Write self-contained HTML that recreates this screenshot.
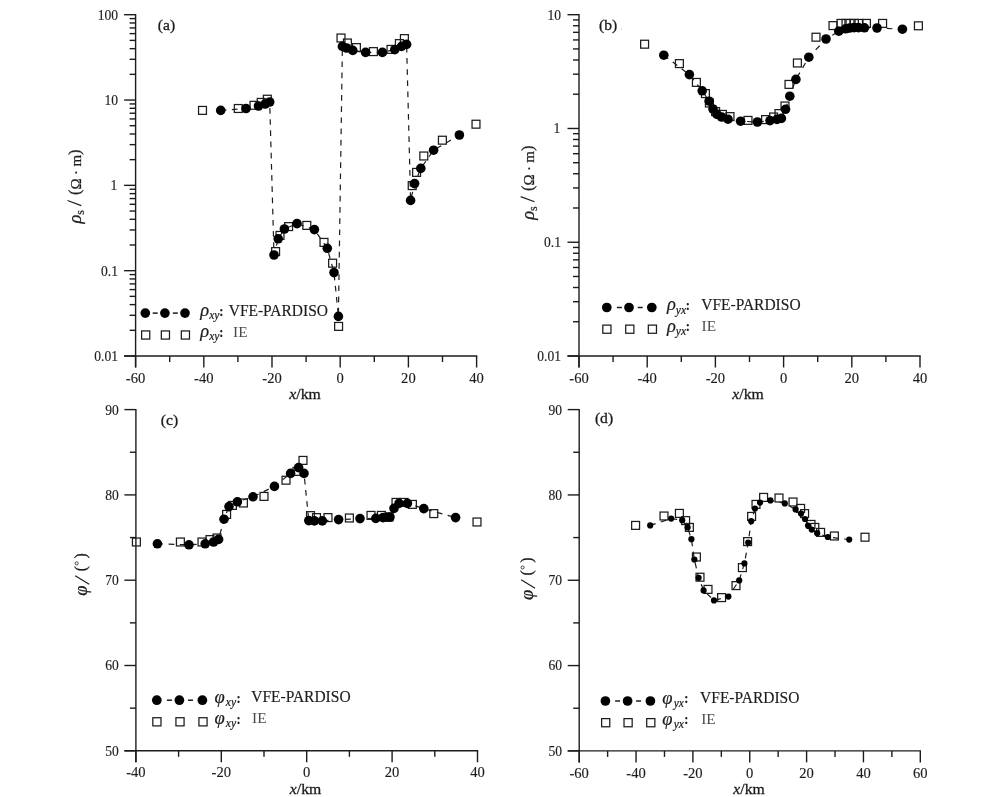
<!DOCTYPE html>
<html><head><meta charset="utf-8"><title>Figure</title>
<style>
html,body{margin:0;padding:0;background:#fff;}
body{width:1000px;height:797px;overflow:hidden;font-family:"Liberation Serif",serif;}
svg{display:block;will-change:transform;}
</style></head><body>
<svg width="1000" height="797" viewBox="0 0 1000 797">
<rect width="1000" height="797" fill="#fff"/>
<line x1="135.60" y1="14.00" x2="135.60" y2="367.50" stroke="#1c1c1c" stroke-width="1.4" />
<line x1="124.10" y1="356.00" x2="477.30" y2="356.00" stroke="#1c1c1c" stroke-width="1.4" />
<line x1="135.60" y1="356.00" x2="135.60" y2="367.50" stroke="#1c1c1c" stroke-width="1.4" />
<text transform="translate(135.60,382.60) scale(1.0,1)" font-size="14.6" text-anchor="middle" font-family="Liberation Serif, serif" fill="#1c1c1c" stroke="#1c1c1c" stroke-width="0.15" >-60</text>
<line x1="203.80" y1="356.00" x2="203.80" y2="367.50" stroke="#1c1c1c" stroke-width="1.4" />
<text transform="translate(203.80,382.60) scale(1.0,1)" font-size="14.6" text-anchor="middle" font-family="Liberation Serif, serif" fill="#1c1c1c" stroke="#1c1c1c" stroke-width="0.15" >-40</text>
<line x1="272.00" y1="356.00" x2="272.00" y2="367.50" stroke="#1c1c1c" stroke-width="1.4" />
<text transform="translate(272.00,382.60) scale(1.0,1)" font-size="14.6" text-anchor="middle" font-family="Liberation Serif, serif" fill="#1c1c1c" stroke="#1c1c1c" stroke-width="0.15" >-20</text>
<line x1="340.20" y1="356.00" x2="340.20" y2="367.50" stroke="#1c1c1c" stroke-width="1.4" />
<text transform="translate(340.20,382.60) scale(1.0,1)" font-size="14.6" text-anchor="middle" font-family="Liberation Serif, serif" fill="#1c1c1c" stroke="#1c1c1c" stroke-width="0.15" >0</text>
<line x1="408.40" y1="356.00" x2="408.40" y2="367.50" stroke="#1c1c1c" stroke-width="1.4" />
<text transform="translate(408.40,382.60) scale(1.0,1)" font-size="14.6" text-anchor="middle" font-family="Liberation Serif, serif" fill="#1c1c1c" stroke="#1c1c1c" stroke-width="0.15" >20</text>
<line x1="476.60" y1="356.00" x2="476.60" y2="367.50" stroke="#1c1c1c" stroke-width="1.4" />
<text transform="translate(476.60,382.60) scale(1.0,1)" font-size="14.6" text-anchor="middle" font-family="Liberation Serif, serif" fill="#1c1c1c" stroke="#1c1c1c" stroke-width="0.15" >40</text>
<line x1="169.70" y1="356.00" x2="169.70" y2="362.00" stroke="#1c1c1c" stroke-width="1.4" />
<line x1="237.90" y1="356.00" x2="237.90" y2="362.00" stroke="#1c1c1c" stroke-width="1.4" />
<line x1="306.10" y1="356.00" x2="306.10" y2="362.00" stroke="#1c1c1c" stroke-width="1.4" />
<line x1="374.30" y1="356.00" x2="374.30" y2="362.00" stroke="#1c1c1c" stroke-width="1.4" />
<line x1="442.50" y1="356.00" x2="442.50" y2="362.00" stroke="#1c1c1c" stroke-width="1.4" />
<line x1="124.10" y1="14.70" x2="135.60" y2="14.70" stroke="#1c1c1c" stroke-width="1.4" />
<text transform="translate(118.00,19.60) scale(0.93,1)" font-size="14.6" text-anchor="end" font-family="Liberation Serif, serif" fill="#1c1c1c" stroke="#1c1c1c" stroke-width="0.15" >100</text>
<line x1="124.10" y1="100.03" x2="135.60" y2="100.03" stroke="#1c1c1c" stroke-width="1.4" />
<text transform="translate(118.00,104.93) scale(0.93,1)" font-size="14.6" text-anchor="end" font-family="Liberation Serif, serif" fill="#1c1c1c" stroke="#1c1c1c" stroke-width="0.15" >10</text>
<line x1="124.10" y1="185.35" x2="135.60" y2="185.35" stroke="#1c1c1c" stroke-width="1.4" />
<text transform="translate(117.20,190.25) scale(0.93,1)" font-size="14.6" text-anchor="end" font-family="Liberation Serif, serif" fill="#1c1c1c" stroke="#1c1c1c" stroke-width="0.15" >1</text>
<line x1="124.10" y1="270.68" x2="135.60" y2="270.68" stroke="#1c1c1c" stroke-width="1.4" />
<text transform="translate(118.00,275.57) scale(0.93,1)" font-size="14.6" text-anchor="end" font-family="Liberation Serif, serif" fill="#1c1c1c" stroke="#1c1c1c" stroke-width="0.15" >0.1</text>
<line x1="124.10" y1="356.00" x2="135.60" y2="356.00" stroke="#1c1c1c" stroke-width="1.4" />
<text transform="translate(118.00,360.90) scale(0.93,1)" font-size="14.6" text-anchor="end" font-family="Liberation Serif, serif" fill="#1c1c1c" stroke="#1c1c1c" stroke-width="0.15" >0.01</text>
<line x1="129.60" y1="74.34" x2="135.60" y2="74.34" stroke="#1c1c1c" stroke-width="1.4" />
<line x1="129.60" y1="59.31" x2="135.60" y2="59.31" stroke="#1c1c1c" stroke-width="1.4" />
<line x1="129.60" y1="48.65" x2="135.60" y2="48.65" stroke="#1c1c1c" stroke-width="1.4" />
<line x1="129.60" y1="40.39" x2="135.60" y2="40.39" stroke="#1c1c1c" stroke-width="1.4" />
<line x1="129.60" y1="33.63" x2="135.60" y2="33.63" stroke="#1c1c1c" stroke-width="1.4" />
<line x1="129.60" y1="27.92" x2="135.60" y2="27.92" stroke="#1c1c1c" stroke-width="1.4" />
<line x1="129.60" y1="22.97" x2="135.60" y2="22.97" stroke="#1c1c1c" stroke-width="1.4" />
<line x1="129.60" y1="18.60" x2="135.60" y2="18.60" stroke="#1c1c1c" stroke-width="1.4" />
<line x1="129.60" y1="159.66" x2="135.60" y2="159.66" stroke="#1c1c1c" stroke-width="1.4" />
<line x1="129.60" y1="144.64" x2="135.60" y2="144.64" stroke="#1c1c1c" stroke-width="1.4" />
<line x1="129.60" y1="133.98" x2="135.60" y2="133.98" stroke="#1c1c1c" stroke-width="1.4" />
<line x1="129.60" y1="125.71" x2="135.60" y2="125.71" stroke="#1c1c1c" stroke-width="1.4" />
<line x1="129.60" y1="118.95" x2="135.60" y2="118.95" stroke="#1c1c1c" stroke-width="1.4" />
<line x1="129.60" y1="113.24" x2="135.60" y2="113.24" stroke="#1c1c1c" stroke-width="1.4" />
<line x1="129.60" y1="108.29" x2="135.60" y2="108.29" stroke="#1c1c1c" stroke-width="1.4" />
<line x1="129.60" y1="103.93" x2="135.60" y2="103.93" stroke="#1c1c1c" stroke-width="1.4" />
<line x1="129.60" y1="244.99" x2="135.60" y2="244.99" stroke="#1c1c1c" stroke-width="1.4" />
<line x1="129.60" y1="229.96" x2="135.60" y2="229.96" stroke="#1c1c1c" stroke-width="1.4" />
<line x1="129.60" y1="219.30" x2="135.60" y2="219.30" stroke="#1c1c1c" stroke-width="1.4" />
<line x1="129.60" y1="211.04" x2="135.60" y2="211.04" stroke="#1c1c1c" stroke-width="1.4" />
<line x1="129.60" y1="204.28" x2="135.60" y2="204.28" stroke="#1c1c1c" stroke-width="1.4" />
<line x1="129.60" y1="198.57" x2="135.60" y2="198.57" stroke="#1c1c1c" stroke-width="1.4" />
<line x1="129.60" y1="193.62" x2="135.60" y2="193.62" stroke="#1c1c1c" stroke-width="1.4" />
<line x1="129.60" y1="189.25" x2="135.60" y2="189.25" stroke="#1c1c1c" stroke-width="1.4" />
<line x1="129.60" y1="330.31" x2="135.60" y2="330.31" stroke="#1c1c1c" stroke-width="1.4" />
<line x1="129.60" y1="315.29" x2="135.60" y2="315.29" stroke="#1c1c1c" stroke-width="1.4" />
<line x1="129.60" y1="304.63" x2="135.60" y2="304.63" stroke="#1c1c1c" stroke-width="1.4" />
<line x1="129.60" y1="296.36" x2="135.60" y2="296.36" stroke="#1c1c1c" stroke-width="1.4" />
<line x1="129.60" y1="289.60" x2="135.60" y2="289.60" stroke="#1c1c1c" stroke-width="1.4" />
<line x1="129.60" y1="283.89" x2="135.60" y2="283.89" stroke="#1c1c1c" stroke-width="1.4" />
<line x1="129.60" y1="278.94" x2="135.60" y2="278.94" stroke="#1c1c1c" stroke-width="1.4" />
<line x1="129.60" y1="274.58" x2="135.60" y2="274.58" stroke="#1c1c1c" stroke-width="1.4" />
<text transform="translate(166.50,30.00) scale(1.04,1)" font-size="15" text-anchor="middle" font-family="Liberation Serif, serif" fill="#1c1c1c" stroke="#1c1c1c" stroke-width="0.3" >(a)</text>
<text transform="translate(305.00,399.30) scale(1.05,1)" font-size="15" text-anchor="middle" font-family="Liberation Serif, serif" fill="#1c1c1c" stroke="#1c1c1c" stroke-width="0.3" ><tspan font-style="italic">x</tspan>/km</text>
<path d="M220.70,110.40 L246.00,108.50 L258.50,106.00 L265.20,104.00 L269.70,102.00 L274.00,255.00 L278.20,238.80 L284.40,229.00 L297.00,223.60 L314.40,229.60 L327.30,248.30 L334.00,272.60 L338.40,316.40 L342.40,46.40 L346.60,48.00 L352.80,50.40 L365.60,52.40 L382.40,52.40 L394.80,49.60 L401.60,46.40 L406.60,44.40 L410.60,200.40 L414.60,183.60 L420.80,168.40 L433.60,150.20 L459.40,135.00" fill="none" stroke="#1c1c1c" stroke-width="1.2" stroke-dasharray="5.7 5.5"/>
<rect x="198.55" y="106.45" width="7.9" height="7.9" fill="none" stroke="#1c1c1c" stroke-width="1.25"/>
<rect x="234.35" y="104.55" width="7.9" height="7.9" fill="none" stroke="#1c1c1c" stroke-width="1.25"/>
<rect x="250.05" y="101.35" width="7.9" height="7.9" fill="none" stroke="#1c1c1c" stroke-width="1.25"/>
<rect x="257.25" y="98.45" width="7.9" height="7.9" fill="none" stroke="#1c1c1c" stroke-width="1.25"/>
<rect x="263.35" y="95.25" width="7.9" height="7.9" fill="none" stroke="#1c1c1c" stroke-width="1.25"/>
<rect x="271.65" y="247.65" width="7.9" height="7.9" fill="none" stroke="#1c1c1c" stroke-width="1.25"/>
<rect x="276.05" y="231.45" width="7.9" height="7.9" fill="none" stroke="#1c1c1c" stroke-width="1.25"/>
<rect x="284.65" y="222.65" width="7.9" height="7.9" fill="none" stroke="#1c1c1c" stroke-width="1.25"/>
<rect x="302.85" y="221.45" width="7.9" height="7.9" fill="none" stroke="#1c1c1c" stroke-width="1.25"/>
<rect x="320.05" y="238.45" width="7.9" height="7.9" fill="none" stroke="#1c1c1c" stroke-width="1.25"/>
<rect x="328.65" y="259.25" width="7.9" height="7.9" fill="none" stroke="#1c1c1c" stroke-width="1.25"/>
<rect x="334.65" y="322.45" width="7.9" height="7.9" fill="none" stroke="#1c1c1c" stroke-width="1.25"/>
<rect x="337.05" y="34.05" width="7.9" height="7.9" fill="none" stroke="#1c1c1c" stroke-width="1.25"/>
<rect x="343.45" y="39.05" width="7.9" height="7.9" fill="none" stroke="#1c1c1c" stroke-width="1.25"/>
<rect x="352.45" y="43.65" width="7.9" height="7.9" fill="none" stroke="#1c1c1c" stroke-width="1.25"/>
<rect x="369.45" y="47.65" width="7.9" height="7.9" fill="none" stroke="#1c1c1c" stroke-width="1.25"/>
<rect x="387.05" y="45.45" width="7.9" height="7.9" fill="none" stroke="#1c1c1c" stroke-width="1.25"/>
<rect x="395.45" y="39.65" width="7.9" height="7.9" fill="none" stroke="#1c1c1c" stroke-width="1.25"/>
<rect x="400.45" y="34.65" width="7.9" height="7.9" fill="none" stroke="#1c1c1c" stroke-width="1.25"/>
<rect x="408.25" y="181.65" width="7.9" height="7.9" fill="none" stroke="#1c1c1c" stroke-width="1.25"/>
<rect x="412.65" y="168.45" width="7.9" height="7.9" fill="none" stroke="#1c1c1c" stroke-width="1.25"/>
<rect x="419.85" y="152.05" width="7.9" height="7.9" fill="none" stroke="#1c1c1c" stroke-width="1.25"/>
<rect x="438.45" y="136.25" width="7.9" height="7.9" fill="none" stroke="#1c1c1c" stroke-width="1.25"/>
<rect x="472.05" y="120.25" width="7.9" height="7.9" fill="none" stroke="#1c1c1c" stroke-width="1.25"/>
<circle cx="220.70" cy="110.40" r="4.8" fill="#000"/>
<circle cx="246.00" cy="108.50" r="4.8" fill="#000"/>
<circle cx="258.50" cy="106.00" r="4.8" fill="#000"/>
<circle cx="265.20" cy="104.00" r="4.8" fill="#000"/>
<circle cx="269.70" cy="102.00" r="4.8" fill="#000"/>
<circle cx="274.00" cy="255.00" r="4.8" fill="#000"/>
<circle cx="278.20" cy="238.80" r="4.8" fill="#000"/>
<circle cx="284.40" cy="229.00" r="4.8" fill="#000"/>
<circle cx="297.00" cy="223.60" r="4.8" fill="#000"/>
<circle cx="314.40" cy="229.60" r="4.8" fill="#000"/>
<circle cx="327.30" cy="248.30" r="4.8" fill="#000"/>
<circle cx="334.00" cy="272.60" r="4.8" fill="#000"/>
<circle cx="338.40" cy="316.40" r="4.8" fill="#000"/>
<circle cx="342.40" cy="46.40" r="4.8" fill="#000"/>
<circle cx="346.60" cy="48.00" r="4.8" fill="#000"/>
<circle cx="352.80" cy="50.40" r="4.8" fill="#000"/>
<circle cx="365.60" cy="52.40" r="4.8" fill="#000"/>
<circle cx="382.40" cy="52.40" r="4.8" fill="#000"/>
<circle cx="394.80" cy="49.60" r="4.8" fill="#000"/>
<circle cx="401.60" cy="46.40" r="4.8" fill="#000"/>
<circle cx="406.60" cy="44.40" r="4.8" fill="#000"/>
<circle cx="410.60" cy="200.40" r="4.8" fill="#000"/>
<circle cx="414.60" cy="183.60" r="4.8" fill="#000"/>
<circle cx="420.80" cy="168.40" r="4.8" fill="#000"/>
<circle cx="433.60" cy="150.20" r="4.8" fill="#000"/>
<circle cx="459.40" cy="135.00" r="4.8" fill="#000"/>
<line x1="152.70" y1="313.10" x2="157.70" y2="313.10" stroke="#1c1c1c" stroke-width="1.5" />
<line x1="172.80" y1="313.10" x2="177.80" y2="313.10" stroke="#1c1c1c" stroke-width="1.5" />
<circle cx="145.30" cy="313.10" r="4.85" fill="#000"/>
<circle cx="164.90" cy="313.10" r="4.85" fill="#000"/>
<circle cx="185.00" cy="313.10" r="4.85" fill="#000"/>
<rect x="141.62" y="330.93" width="8.15" height="8.15" fill="none" stroke="#1c1c1c" stroke-width="1.25"/>
<rect x="161.33" y="330.93" width="8.15" height="8.15" fill="none" stroke="#1c1c1c" stroke-width="1.25"/>
<rect x="181.33" y="330.93" width="8.15" height="8.15" fill="none" stroke="#1c1c1c" stroke-width="1.25"/>
<text x="200.30" y="315.80" font-size="18.5" font-family="Liberation Serif, serif" fill="#1c1c1c" stroke="#1c1c1c" stroke-width="0.2" font-style="italic">ρ<tspan font-size="11.5" dy="3.2" dx="0">xy</tspan><tspan font-size="14" dy="-3.4" dx="-0.4" font-style="normal" font-weight="bold" stroke="none">:</tspan></text>
<text x="200.30" y="336.80" font-size="18.5" font-family="Liberation Serif, serif" fill="#1c1c1c" stroke="#1c1c1c" stroke-width="0.2" font-style="italic">ρ<tspan font-size="11.5" dy="3.2" dx="0">xy</tspan><tspan font-size="14" dy="-3.4" dx="-0.4" font-style="normal" font-weight="bold" stroke="none">:</tspan></text>
<text transform="translate(228.70,315.70) scale(0.975,1)" font-size="15.9" text-anchor="start" font-family="Liberation Serif, serif" fill="#1c1c1c" stroke="#1c1c1c" stroke-width="0.15" >VFE-PARDISO</text>
<text transform="translate(233.00,336.50) scale(1.0,1)" font-size="15.4" text-anchor="start" font-family="Liberation Serif, serif" fill="#1c1c1c" stroke="#1c1c1c" stroke-width="0.15" fill-opacity="0.8" stroke-opacity="0">IE</text>
<line x1="579.00" y1="14.00" x2="579.00" y2="367.50" stroke="#1c1c1c" stroke-width="1.4" />
<line x1="567.50" y1="356.00" x2="920.70" y2="356.00" stroke="#1c1c1c" stroke-width="1.4" />
<line x1="579.00" y1="356.00" x2="579.00" y2="367.50" stroke="#1c1c1c" stroke-width="1.4" />
<text transform="translate(579.00,382.60) scale(1.0,1)" font-size="14.6" text-anchor="middle" font-family="Liberation Serif, serif" fill="#1c1c1c" stroke="#1c1c1c" stroke-width="0.15" >-60</text>
<line x1="647.20" y1="356.00" x2="647.20" y2="367.50" stroke="#1c1c1c" stroke-width="1.4" />
<text transform="translate(647.20,382.60) scale(1.0,1)" font-size="14.6" text-anchor="middle" font-family="Liberation Serif, serif" fill="#1c1c1c" stroke="#1c1c1c" stroke-width="0.15" >-40</text>
<line x1="715.40" y1="356.00" x2="715.40" y2="367.50" stroke="#1c1c1c" stroke-width="1.4" />
<text transform="translate(715.40,382.60) scale(1.0,1)" font-size="14.6" text-anchor="middle" font-family="Liberation Serif, serif" fill="#1c1c1c" stroke="#1c1c1c" stroke-width="0.15" >-20</text>
<line x1="783.60" y1="356.00" x2="783.60" y2="367.50" stroke="#1c1c1c" stroke-width="1.4" />
<text transform="translate(783.60,382.60) scale(1.0,1)" font-size="14.6" text-anchor="middle" font-family="Liberation Serif, serif" fill="#1c1c1c" stroke="#1c1c1c" stroke-width="0.15" >0</text>
<line x1="851.80" y1="356.00" x2="851.80" y2="367.50" stroke="#1c1c1c" stroke-width="1.4" />
<text transform="translate(851.80,382.60) scale(1.0,1)" font-size="14.6" text-anchor="middle" font-family="Liberation Serif, serif" fill="#1c1c1c" stroke="#1c1c1c" stroke-width="0.15" >20</text>
<line x1="920.00" y1="356.00" x2="920.00" y2="367.50" stroke="#1c1c1c" stroke-width="1.4" />
<text transform="translate(920.00,382.60) scale(1.0,1)" font-size="14.6" text-anchor="middle" font-family="Liberation Serif, serif" fill="#1c1c1c" stroke="#1c1c1c" stroke-width="0.15" >40</text>
<line x1="613.10" y1="356.00" x2="613.10" y2="362.00" stroke="#1c1c1c" stroke-width="1.4" />
<line x1="681.30" y1="356.00" x2="681.30" y2="362.00" stroke="#1c1c1c" stroke-width="1.4" />
<line x1="749.50" y1="356.00" x2="749.50" y2="362.00" stroke="#1c1c1c" stroke-width="1.4" />
<line x1="817.70" y1="356.00" x2="817.70" y2="362.00" stroke="#1c1c1c" stroke-width="1.4" />
<line x1="885.90" y1="356.00" x2="885.90" y2="362.00" stroke="#1c1c1c" stroke-width="1.4" />
<line x1="567.50" y1="14.70" x2="579.00" y2="14.70" stroke="#1c1c1c" stroke-width="1.4" />
<text transform="translate(561.00,19.60) scale(0.93,1)" font-size="14.6" text-anchor="end" font-family="Liberation Serif, serif" fill="#1c1c1c" stroke="#1c1c1c" stroke-width="0.15" >10</text>
<line x1="567.50" y1="128.47" x2="579.00" y2="128.47" stroke="#1c1c1c" stroke-width="1.4" />
<text transform="translate(560.20,133.37) scale(0.93,1)" font-size="14.6" text-anchor="end" font-family="Liberation Serif, serif" fill="#1c1c1c" stroke="#1c1c1c" stroke-width="0.15" >1</text>
<line x1="567.50" y1="242.23" x2="579.00" y2="242.23" stroke="#1c1c1c" stroke-width="1.4" />
<text transform="translate(561.00,247.13) scale(0.93,1)" font-size="14.6" text-anchor="end" font-family="Liberation Serif, serif" fill="#1c1c1c" stroke="#1c1c1c" stroke-width="0.15" >0.1</text>
<line x1="567.50" y1="356.00" x2="579.00" y2="356.00" stroke="#1c1c1c" stroke-width="1.4" />
<text transform="translate(561.00,360.90) scale(0.93,1)" font-size="14.6" text-anchor="end" font-family="Liberation Serif, serif" fill="#1c1c1c" stroke="#1c1c1c" stroke-width="0.15" >0.01</text>
<line x1="573.00" y1="94.22" x2="579.00" y2="94.22" stroke="#1c1c1c" stroke-width="1.4" />
<line x1="573.00" y1="74.19" x2="579.00" y2="74.19" stroke="#1c1c1c" stroke-width="1.4" />
<line x1="573.00" y1="59.97" x2="579.00" y2="59.97" stroke="#1c1c1c" stroke-width="1.4" />
<line x1="573.00" y1="48.95" x2="579.00" y2="48.95" stroke="#1c1c1c" stroke-width="1.4" />
<line x1="573.00" y1="39.94" x2="579.00" y2="39.94" stroke="#1c1c1c" stroke-width="1.4" />
<line x1="573.00" y1="32.32" x2="579.00" y2="32.32" stroke="#1c1c1c" stroke-width="1.4" />
<line x1="573.00" y1="25.73" x2="579.00" y2="25.73" stroke="#1c1c1c" stroke-width="1.4" />
<line x1="573.00" y1="19.91" x2="579.00" y2="19.91" stroke="#1c1c1c" stroke-width="1.4" />
<line x1="573.00" y1="207.99" x2="579.00" y2="207.99" stroke="#1c1c1c" stroke-width="1.4" />
<line x1="573.00" y1="187.95" x2="579.00" y2="187.95" stroke="#1c1c1c" stroke-width="1.4" />
<line x1="573.00" y1="173.74" x2="579.00" y2="173.74" stroke="#1c1c1c" stroke-width="1.4" />
<line x1="573.00" y1="162.71" x2="579.00" y2="162.71" stroke="#1c1c1c" stroke-width="1.4" />
<line x1="573.00" y1="153.71" x2="579.00" y2="153.71" stroke="#1c1c1c" stroke-width="1.4" />
<line x1="573.00" y1="146.09" x2="579.00" y2="146.09" stroke="#1c1c1c" stroke-width="1.4" />
<line x1="573.00" y1="139.49" x2="579.00" y2="139.49" stroke="#1c1c1c" stroke-width="1.4" />
<line x1="573.00" y1="133.67" x2="579.00" y2="133.67" stroke="#1c1c1c" stroke-width="1.4" />
<line x1="573.00" y1="321.75" x2="579.00" y2="321.75" stroke="#1c1c1c" stroke-width="1.4" />
<line x1="573.00" y1="301.72" x2="579.00" y2="301.72" stroke="#1c1c1c" stroke-width="1.4" />
<line x1="573.00" y1="287.51" x2="579.00" y2="287.51" stroke="#1c1c1c" stroke-width="1.4" />
<line x1="573.00" y1="276.48" x2="579.00" y2="276.48" stroke="#1c1c1c" stroke-width="1.4" />
<line x1="573.00" y1="267.47" x2="579.00" y2="267.47" stroke="#1c1c1c" stroke-width="1.4" />
<line x1="573.00" y1="259.86" x2="579.00" y2="259.86" stroke="#1c1c1c" stroke-width="1.4" />
<line x1="573.00" y1="253.26" x2="579.00" y2="253.26" stroke="#1c1c1c" stroke-width="1.4" />
<line x1="573.00" y1="247.44" x2="579.00" y2="247.44" stroke="#1c1c1c" stroke-width="1.4" />
<text transform="translate(608.20,29.80) scale(1.04,1)" font-size="15" text-anchor="middle" font-family="Liberation Serif, serif" fill="#1c1c1c" stroke="#1c1c1c" stroke-width="0.3" >(b)</text>
<circle cx="621.4" cy="29" r="0.5" fill="#999"/>
<text transform="translate(748.10,399.30) scale(1.05,1)" font-size="15" text-anchor="middle" font-family="Liberation Serif, serif" fill="#1c1c1c" stroke="#1c1c1c" stroke-width="0.3" ><tspan font-style="italic">x</tspan>/km</text>
<path d="M663.80,55.20 L689.40,74.60 L702.20,90.80 L709.20,101.20 L713.00,109.00 L717.00,114.40 L721.60,117.00 L728.00,119.20 L740.60,121.20 L757.40,122.00 L770.00,120.60 L777.00,119.40 L781.40,118.40 L785.50,109.30 L789.80,96.20 L795.90,79.40 L808.80,57.20 L826.00,39.00 L838.80,31.20 L845.60,28.80 L849.60,28.00 L854.00,27.60 L858.40,27.60 L864.40,27.80 L877.00,28.00 L902.40,29.20" fill="none" stroke="#1c1c1c" stroke-width="1.2" stroke-dasharray="5.7 5.5"/>
<rect x="640.65" y="40.25" width="7.9" height="7.9" fill="none" stroke="#1c1c1c" stroke-width="1.25"/>
<rect x="675.45" y="59.65" width="7.9" height="7.9" fill="none" stroke="#1c1c1c" stroke-width="1.25"/>
<rect x="692.45" y="78.45" width="7.9" height="7.9" fill="none" stroke="#1c1c1c" stroke-width="1.25"/>
<rect x="701.45" y="89.65" width="7.9" height="7.9" fill="none" stroke="#1c1c1c" stroke-width="1.25"/>
<rect x="705.45" y="99.05" width="7.9" height="7.9" fill="none" stroke="#1c1c1c" stroke-width="1.25"/>
<rect x="711.65" y="107.65" width="7.9" height="7.9" fill="none" stroke="#1c1c1c" stroke-width="1.25"/>
<rect x="718.45" y="110.45" width="7.9" height="7.9" fill="none" stroke="#1c1c1c" stroke-width="1.25"/>
<rect x="726.05" y="112.65" width="7.9" height="7.9" fill="none" stroke="#1c1c1c" stroke-width="1.25"/>
<rect x="744.05" y="116.45" width="7.9" height="7.9" fill="none" stroke="#1c1c1c" stroke-width="1.25"/>
<rect x="761.65" y="115.65" width="7.9" height="7.9" fill="none" stroke="#1c1c1c" stroke-width="1.25"/>
<rect x="769.65" y="113.05" width="7.9" height="7.9" fill="none" stroke="#1c1c1c" stroke-width="1.25"/>
<rect x="775.05" y="109.65" width="7.9" height="7.9" fill="none" stroke="#1c1c1c" stroke-width="1.25"/>
<rect x="781.05" y="102.05" width="7.9" height="7.9" fill="none" stroke="#1c1c1c" stroke-width="1.25"/>
<rect x="785.05" y="80.45" width="7.9" height="7.9" fill="none" stroke="#1c1c1c" stroke-width="1.25"/>
<rect x="793.45" y="59.05" width="7.9" height="7.9" fill="none" stroke="#1c1c1c" stroke-width="1.25"/>
<rect x="812.05" y="33.25" width="7.9" height="7.9" fill="none" stroke="#1c1c1c" stroke-width="1.25"/>
<rect x="829.05" y="21.65" width="7.9" height="7.9" fill="none" stroke="#1c1c1c" stroke-width="1.25"/>
<rect x="837.05" y="19.45" width="7.9" height="7.9" fill="none" stroke="#1c1c1c" stroke-width="1.25"/>
<rect x="842.05" y="19.45" width="7.9" height="7.9" fill="none" stroke="#1c1c1c" stroke-width="1.25"/>
<rect x="846.05" y="19.45" width="7.9" height="7.9" fill="none" stroke="#1c1c1c" stroke-width="1.25"/>
<rect x="850.45" y="19.45" width="7.9" height="7.9" fill="none" stroke="#1c1c1c" stroke-width="1.25"/>
<rect x="855.05" y="19.45" width="7.9" height="7.9" fill="none" stroke="#1c1c1c" stroke-width="1.25"/>
<rect x="862.45" y="19.45" width="7.9" height="7.9" fill="none" stroke="#1c1c1c" stroke-width="1.25"/>
<rect x="878.65" y="19.45" width="7.9" height="7.9" fill="none" stroke="#1c1c1c" stroke-width="1.25"/>
<rect x="914.45" y="21.85" width="7.9" height="7.9" fill="none" stroke="#1c1c1c" stroke-width="1.25"/>
<circle cx="663.80" cy="55.20" r="4.8" fill="#000"/>
<circle cx="689.40" cy="74.60" r="4.8" fill="#000"/>
<circle cx="702.20" cy="90.80" r="4.8" fill="#000"/>
<circle cx="709.20" cy="101.20" r="4.8" fill="#000"/>
<circle cx="713.00" cy="109.00" r="4.8" fill="#000"/>
<circle cx="717.00" cy="114.40" r="4.8" fill="#000"/>
<circle cx="721.60" cy="117.00" r="4.8" fill="#000"/>
<circle cx="728.00" cy="119.20" r="4.8" fill="#000"/>
<circle cx="740.60" cy="121.20" r="4.8" fill="#000"/>
<circle cx="757.40" cy="122.00" r="4.8" fill="#000"/>
<circle cx="770.00" cy="120.60" r="4.8" fill="#000"/>
<circle cx="777.00" cy="119.40" r="4.8" fill="#000"/>
<circle cx="781.40" cy="118.40" r="4.8" fill="#000"/>
<circle cx="785.50" cy="109.30" r="4.8" fill="#000"/>
<circle cx="789.80" cy="96.20" r="4.8" fill="#000"/>
<circle cx="795.90" cy="79.40" r="4.8" fill="#000"/>
<circle cx="808.80" cy="57.20" r="4.8" fill="#000"/>
<circle cx="826.00" cy="39.00" r="4.8" fill="#000"/>
<circle cx="838.80" cy="31.20" r="4.8" fill="#000"/>
<circle cx="845.60" cy="28.80" r="4.8" fill="#000"/>
<circle cx="849.60" cy="28.00" r="4.8" fill="#000"/>
<circle cx="854.00" cy="27.60" r="4.8" fill="#000"/>
<circle cx="858.40" cy="27.60" r="4.8" fill="#000"/>
<circle cx="864.40" cy="27.80" r="4.8" fill="#000"/>
<circle cx="877.00" cy="28.00" r="4.8" fill="#000"/>
<circle cx="902.40" cy="29.20" r="4.8" fill="#000"/>
<line x1="616.90" y1="307.50" x2="621.90" y2="307.50" stroke="#1c1c1c" stroke-width="1.5" />
<line x1="637.70" y1="307.50" x2="642.70" y2="307.50" stroke="#1c1c1c" stroke-width="1.5" />
<circle cx="606.80" cy="307.50" r="4.85" fill="#000"/>
<circle cx="629.00" cy="307.50" r="4.85" fill="#000"/>
<circle cx="651.80" cy="307.50" r="4.85" fill="#000"/>
<rect x="602.82" y="325.12" width="8.15" height="8.15" fill="none" stroke="#1c1c1c" stroke-width="1.25"/>
<rect x="625.72" y="325.12" width="8.15" height="8.15" fill="none" stroke="#1c1c1c" stroke-width="1.25"/>
<rect x="648.32" y="325.12" width="8.15" height="8.15" fill="none" stroke="#1c1c1c" stroke-width="1.25"/>
<text x="666.90" y="310.30" font-size="18.5" font-family="Liberation Serif, serif" fill="#1c1c1c" stroke="#1c1c1c" stroke-width="0.2" font-style="italic">ρ<tspan font-size="11.5" dy="3.2" dx="0">yx</tspan><tspan font-size="14" dy="-3.4" dx="-0.4" font-style="normal" font-weight="bold" stroke="none">:</tspan></text>
<text x="666.90" y="331.50" font-size="18.5" font-family="Liberation Serif, serif" fill="#1c1c1c" stroke="#1c1c1c" stroke-width="0.2" font-style="italic">ρ<tspan font-size="11.5" dy="3.2" dx="0">yx</tspan><tspan font-size="14" dy="-3.4" dx="-0.4" font-style="normal" font-weight="bold" stroke="none">:</tspan></text>
<text transform="translate(701.30,309.50) scale(0.975,1)" font-size="15.9" text-anchor="start" font-family="Liberation Serif, serif" fill="#1c1c1c" stroke="#1c1c1c" stroke-width="0.15" >VFE-PARDISO</text>
<text transform="translate(701.60,330.50) scale(1.0,1)" font-size="15.4" text-anchor="start" font-family="Liberation Serif, serif" fill="#1c1c1c" stroke="#1c1c1c" stroke-width="0.15" fill-opacity="0.8" stroke-opacity="0">IE</text>
<line x1="135.90" y1="408.90" x2="135.90" y2="762.30" stroke="#1c1c1c" stroke-width="1.4" />
<line x1="124.40" y1="750.80" x2="478.20" y2="750.80" stroke="#1c1c1c" stroke-width="1.4" />
<line x1="135.90" y1="750.80" x2="135.90" y2="762.30" stroke="#1c1c1c" stroke-width="1.4" />
<text transform="translate(135.90,777.40) scale(1.0,1)" font-size="14.6" text-anchor="middle" font-family="Liberation Serif, serif" fill="#1c1c1c" stroke="#1c1c1c" stroke-width="0.15" >-40</text>
<line x1="221.30" y1="750.80" x2="221.30" y2="762.30" stroke="#1c1c1c" stroke-width="1.4" />
<text transform="translate(221.30,777.40) scale(1.0,1)" font-size="14.6" text-anchor="middle" font-family="Liberation Serif, serif" fill="#1c1c1c" stroke="#1c1c1c" stroke-width="0.15" >-20</text>
<line x1="306.70" y1="750.80" x2="306.70" y2="762.30" stroke="#1c1c1c" stroke-width="1.4" />
<text transform="translate(306.70,777.40) scale(1.0,1)" font-size="14.6" text-anchor="middle" font-family="Liberation Serif, serif" fill="#1c1c1c" stroke="#1c1c1c" stroke-width="0.15" >0</text>
<line x1="392.10" y1="750.80" x2="392.10" y2="762.30" stroke="#1c1c1c" stroke-width="1.4" />
<text transform="translate(392.10,777.40) scale(1.0,1)" font-size="14.6" text-anchor="middle" font-family="Liberation Serif, serif" fill="#1c1c1c" stroke="#1c1c1c" stroke-width="0.15" >20</text>
<line x1="477.50" y1="750.80" x2="477.50" y2="762.30" stroke="#1c1c1c" stroke-width="1.4" />
<text transform="translate(477.50,777.40) scale(1.0,1)" font-size="14.6" text-anchor="middle" font-family="Liberation Serif, serif" fill="#1c1c1c" stroke="#1c1c1c" stroke-width="0.15" >40</text>
<line x1="178.60" y1="750.80" x2="178.60" y2="756.80" stroke="#1c1c1c" stroke-width="1.4" />
<line x1="264.00" y1="750.80" x2="264.00" y2="756.80" stroke="#1c1c1c" stroke-width="1.4" />
<line x1="349.40" y1="750.80" x2="349.40" y2="756.80" stroke="#1c1c1c" stroke-width="1.4" />
<line x1="434.80" y1="750.80" x2="434.80" y2="756.80" stroke="#1c1c1c" stroke-width="1.4" />
<line x1="124.40" y1="409.60" x2="135.90" y2="409.60" stroke="#1c1c1c" stroke-width="1.4" />
<text transform="translate(118.80,414.50) scale(0.93,1)" font-size="14.6" text-anchor="end" font-family="Liberation Serif, serif" fill="#1c1c1c" stroke="#1c1c1c" stroke-width="0.15" >90</text>
<line x1="124.40" y1="494.90" x2="135.90" y2="494.90" stroke="#1c1c1c" stroke-width="1.4" />
<text transform="translate(118.80,499.80) scale(0.93,1)" font-size="14.6" text-anchor="end" font-family="Liberation Serif, serif" fill="#1c1c1c" stroke="#1c1c1c" stroke-width="0.15" >80</text>
<line x1="124.40" y1="580.20" x2="135.90" y2="580.20" stroke="#1c1c1c" stroke-width="1.4" />
<text transform="translate(118.80,585.10) scale(0.93,1)" font-size="14.6" text-anchor="end" font-family="Liberation Serif, serif" fill="#1c1c1c" stroke="#1c1c1c" stroke-width="0.15" >70</text>
<line x1="124.40" y1="665.50" x2="135.90" y2="665.50" stroke="#1c1c1c" stroke-width="1.4" />
<text transform="translate(118.80,670.40) scale(0.93,1)" font-size="14.6" text-anchor="end" font-family="Liberation Serif, serif" fill="#1c1c1c" stroke="#1c1c1c" stroke-width="0.15" >60</text>
<line x1="124.40" y1="750.80" x2="135.90" y2="750.80" stroke="#1c1c1c" stroke-width="1.4" />
<text transform="translate(118.80,755.70) scale(0.93,1)" font-size="14.6" text-anchor="end" font-family="Liberation Serif, serif" fill="#1c1c1c" stroke="#1c1c1c" stroke-width="0.15" >50</text>
<line x1="129.90" y1="452.25" x2="135.90" y2="452.25" stroke="#1c1c1c" stroke-width="1.4" />
<line x1="129.90" y1="537.55" x2="135.90" y2="537.55" stroke="#1c1c1c" stroke-width="1.4" />
<line x1="129.90" y1="622.85" x2="135.90" y2="622.85" stroke="#1c1c1c" stroke-width="1.4" />
<line x1="129.90" y1="708.15" x2="135.90" y2="708.15" stroke="#1c1c1c" stroke-width="1.4" />
<text transform="translate(169.50,424.50) scale(1.04,1)" font-size="15" text-anchor="middle" font-family="Liberation Serif, serif" fill="#1c1c1c" stroke="#1c1c1c" stroke-width="0.3" >(c)</text>
<text transform="translate(305.60,794.30) scale(1.05,1)" font-size="15" text-anchor="middle" font-family="Liberation Serif, serif" fill="#1c1c1c" stroke="#1c1c1c" stroke-width="0.3" ><tspan font-style="italic">x</tspan>/km</text>
<path d="M157.40,543.80 L189.00,544.80 L205.20,543.80 L213.60,542.00 L218.60,539.40 L224.00,519.20 L229.00,506.60 L237.40,501.80 L253.00,496.80 L274.40,486.40 L290.60,473.40 L298.60,467.60 L304.00,473.40 L308.80,520.60 L314.40,520.90 L322.30,520.90 L338.60,519.60 L360.00,518.60 L375.80,518.40 L383.00,517.60 L387.40,517.20 L390.00,517.10 L394.00,508.40 L399.00,503.40 L407.40,503.40 L423.80,508.60 L455.60,517.60" fill="none" stroke="#1c1c1c" stroke-width="1.2" stroke-dasharray="5.7 5.5"/>
<rect x="132.45" y="538.05" width="7.9" height="7.9" fill="none" stroke="#1c1c1c" stroke-width="1.25"/>
<rect x="176.45" y="538.05" width="7.9" height="7.9" fill="none" stroke="#1c1c1c" stroke-width="1.25"/>
<rect x="198.05" y="538.05" width="7.9" height="7.9" fill="none" stroke="#1c1c1c" stroke-width="1.25"/>
<rect x="206.05" y="535.65" width="7.9" height="7.9" fill="none" stroke="#1c1c1c" stroke-width="1.25"/>
<rect x="213.05" y="534.05" width="7.9" height="7.9" fill="none" stroke="#1c1c1c" stroke-width="1.25"/>
<rect x="222.65" y="510.45" width="7.9" height="7.9" fill="none" stroke="#1c1c1c" stroke-width="1.25"/>
<rect x="228.45" y="501.45" width="7.9" height="7.9" fill="none" stroke="#1c1c1c" stroke-width="1.25"/>
<rect x="239.45" y="499.05" width="7.9" height="7.9" fill="none" stroke="#1c1c1c" stroke-width="1.25"/>
<rect x="260.05" y="492.45" width="7.9" height="7.9" fill="none" stroke="#1c1c1c" stroke-width="1.25"/>
<rect x="282.05" y="476.25" width="7.9" height="7.9" fill="none" stroke="#1c1c1c" stroke-width="1.25"/>
<rect x="293.05" y="467.45" width="7.9" height="7.9" fill="none" stroke="#1c1c1c" stroke-width="1.25"/>
<rect x="299.05" y="456.45" width="7.9" height="7.9" fill="none" stroke="#1c1c1c" stroke-width="1.25"/>
<rect x="306.55" y="511.65" width="7.9" height="7.9" fill="none" stroke="#1c1c1c" stroke-width="1.25"/>
<rect x="312.55" y="513.65" width="7.9" height="7.9" fill="none" stroke="#1c1c1c" stroke-width="1.25"/>
<rect x="324.05" y="513.65" width="7.9" height="7.9" fill="none" stroke="#1c1c1c" stroke-width="1.25"/>
<rect x="345.45" y="514.05" width="7.9" height="7.9" fill="none" stroke="#1c1c1c" stroke-width="1.25"/>
<rect x="367.05" y="511.45" width="7.9" height="7.9" fill="none" stroke="#1c1c1c" stroke-width="1.25"/>
<rect x="377.45" y="511.45" width="7.9" height="7.9" fill="none" stroke="#1c1c1c" stroke-width="1.25"/>
<rect x="385.05" y="513.05" width="7.9" height="7.9" fill="none" stroke="#1c1c1c" stroke-width="1.25"/>
<rect x="392.05" y="498.45" width="7.9" height="7.9" fill="none" stroke="#1c1c1c" stroke-width="1.25"/>
<rect x="400.05" y="498.45" width="7.9" height="7.9" fill="none" stroke="#1c1c1c" stroke-width="1.25"/>
<rect x="408.45" y="500.45" width="7.9" height="7.9" fill="none" stroke="#1c1c1c" stroke-width="1.25"/>
<rect x="429.85" y="509.65" width="7.9" height="7.9" fill="none" stroke="#1c1c1c" stroke-width="1.25"/>
<rect x="473.05" y="518.05" width="7.9" height="7.9" fill="none" stroke="#1c1c1c" stroke-width="1.25"/>
<circle cx="157.40" cy="543.80" r="4.8" fill="#000"/>
<circle cx="189.00" cy="544.80" r="4.8" fill="#000"/>
<circle cx="205.20" cy="543.80" r="4.8" fill="#000"/>
<circle cx="213.60" cy="542.00" r="4.8" fill="#000"/>
<circle cx="218.60" cy="539.40" r="4.8" fill="#000"/>
<circle cx="224.00" cy="519.20" r="4.8" fill="#000"/>
<circle cx="229.00" cy="506.60" r="4.8" fill="#000"/>
<circle cx="237.40" cy="501.80" r="4.8" fill="#000"/>
<circle cx="253.00" cy="496.80" r="4.8" fill="#000"/>
<circle cx="274.40" cy="486.40" r="4.8" fill="#000"/>
<circle cx="290.60" cy="473.40" r="4.8" fill="#000"/>
<circle cx="298.60" cy="467.60" r="4.8" fill="#000"/>
<circle cx="304.00" cy="473.40" r="4.8" fill="#000"/>
<circle cx="308.80" cy="520.60" r="4.8" fill="#000"/>
<circle cx="314.40" cy="520.90" r="4.8" fill="#000"/>
<circle cx="322.30" cy="520.90" r="4.8" fill="#000"/>
<circle cx="338.60" cy="519.60" r="4.8" fill="#000"/>
<circle cx="360.00" cy="518.60" r="4.8" fill="#000"/>
<circle cx="375.80" cy="518.40" r="4.8" fill="#000"/>
<circle cx="383.00" cy="517.60" r="4.8" fill="#000"/>
<circle cx="387.40" cy="517.20" r="4.8" fill="#000"/>
<circle cx="390.00" cy="517.10" r="4.8" fill="#000"/>
<circle cx="394.00" cy="508.40" r="4.8" fill="#000"/>
<circle cx="399.00" cy="503.40" r="4.8" fill="#000"/>
<circle cx="407.40" cy="503.40" r="4.8" fill="#000"/>
<circle cx="423.80" cy="508.60" r="4.8" fill="#000"/>
<circle cx="455.60" cy="517.60" r="4.8" fill="#000"/>
<line x1="166.90" y1="700.20" x2="171.90" y2="700.20" stroke="#1c1c1c" stroke-width="1.5" />
<line x1="188.00" y1="700.20" x2="193.00" y2="700.20" stroke="#1c1c1c" stroke-width="1.5" />
<circle cx="156.80" cy="700.20" r="4.85" fill="#000"/>
<circle cx="179.40" cy="700.20" r="4.85" fill="#000"/>
<circle cx="202.40" cy="700.20" r="4.85" fill="#000"/>
<rect x="152.83" y="717.72" width="8.15" height="8.15" fill="none" stroke="#1c1c1c" stroke-width="1.25"/>
<rect x="175.93" y="717.72" width="8.15" height="8.15" fill="none" stroke="#1c1c1c" stroke-width="1.25"/>
<rect x="198.93" y="717.72" width="8.15" height="8.15" fill="none" stroke="#1c1c1c" stroke-width="1.25"/>
<text x="214.40" y="702.90" font-size="18.5" font-family="Liberation Serif, serif" fill="#1c1c1c" stroke="#1c1c1c" stroke-width="0.2" font-style="italic">φ<tspan font-size="11.5" dy="3.2" dx="1.2">xy</tspan><tspan font-size="14" dy="-3.4" dx="0.2" font-style="normal" font-weight="bold" stroke="none">:</tspan></text>
<text x="214.40" y="723.90" font-size="18.5" font-family="Liberation Serif, serif" fill="#1c1c1c" stroke="#1c1c1c" stroke-width="0.2" font-style="italic">φ<tspan font-size="11.5" dy="3.2" dx="1.2">xy</tspan><tspan font-size="14" dy="-3.4" dx="0.2" font-style="normal" font-weight="bold" stroke="none">:</tspan></text>
<text transform="translate(251.30,701.70) scale(0.975,1)" font-size="15.9" text-anchor="start" font-family="Liberation Serif, serif" fill="#1c1c1c" stroke="#1c1c1c" stroke-width="0.15" >VFE-PARDISO</text>
<text transform="translate(252.00,723.10) scale(1.0,1)" font-size="15.4" text-anchor="start" font-family="Liberation Serif, serif" fill="#1c1c1c" stroke="#1c1c1c" stroke-width="0.15" fill-opacity="0.8" stroke-opacity="0">IE</text>
<line x1="579.20" y1="408.90" x2="579.20" y2="762.40" stroke="#1c1c1c" stroke-width="1.4" />
<line x1="567.70" y1="750.90" x2="921.00" y2="750.90" stroke="#1c1c1c" stroke-width="1.4" />
<line x1="579.20" y1="750.90" x2="579.20" y2="762.40" stroke="#1c1c1c" stroke-width="1.4" />
<text transform="translate(579.20,777.50) scale(1.0,1)" font-size="14.6" text-anchor="middle" font-family="Liberation Serif, serif" fill="#1c1c1c" stroke="#1c1c1c" stroke-width="0.15" >-60</text>
<line x1="636.05" y1="750.90" x2="636.05" y2="762.40" stroke="#1c1c1c" stroke-width="1.4" />
<text transform="translate(636.05,777.50) scale(1.0,1)" font-size="14.6" text-anchor="middle" font-family="Liberation Serif, serif" fill="#1c1c1c" stroke="#1c1c1c" stroke-width="0.15" >-40</text>
<line x1="692.90" y1="750.90" x2="692.90" y2="762.40" stroke="#1c1c1c" stroke-width="1.4" />
<text transform="translate(692.90,777.50) scale(1.0,1)" font-size="14.6" text-anchor="middle" font-family="Liberation Serif, serif" fill="#1c1c1c" stroke="#1c1c1c" stroke-width="0.15" >-20</text>
<line x1="749.75" y1="750.90" x2="749.75" y2="762.40" stroke="#1c1c1c" stroke-width="1.4" />
<text transform="translate(749.75,777.50) scale(1.0,1)" font-size="14.6" text-anchor="middle" font-family="Liberation Serif, serif" fill="#1c1c1c" stroke="#1c1c1c" stroke-width="0.15" >0</text>
<line x1="806.60" y1="750.90" x2="806.60" y2="762.40" stroke="#1c1c1c" stroke-width="1.4" />
<text transform="translate(806.60,777.50) scale(1.0,1)" font-size="14.6" text-anchor="middle" font-family="Liberation Serif, serif" fill="#1c1c1c" stroke="#1c1c1c" stroke-width="0.15" >20</text>
<line x1="863.45" y1="750.90" x2="863.45" y2="762.40" stroke="#1c1c1c" stroke-width="1.4" />
<text transform="translate(863.45,777.50) scale(1.0,1)" font-size="14.6" text-anchor="middle" font-family="Liberation Serif, serif" fill="#1c1c1c" stroke="#1c1c1c" stroke-width="0.15" >40</text>
<line x1="920.30" y1="750.90" x2="920.30" y2="762.40" stroke="#1c1c1c" stroke-width="1.4" />
<text transform="translate(920.30,777.50) scale(1.0,1)" font-size="14.6" text-anchor="middle" font-family="Liberation Serif, serif" fill="#1c1c1c" stroke="#1c1c1c" stroke-width="0.15" >60</text>
<line x1="607.62" y1="750.90" x2="607.62" y2="756.90" stroke="#1c1c1c" stroke-width="1.4" />
<line x1="664.48" y1="750.90" x2="664.48" y2="756.90" stroke="#1c1c1c" stroke-width="1.4" />
<line x1="721.33" y1="750.90" x2="721.33" y2="756.90" stroke="#1c1c1c" stroke-width="1.4" />
<line x1="778.17" y1="750.90" x2="778.17" y2="756.90" stroke="#1c1c1c" stroke-width="1.4" />
<line x1="835.02" y1="750.90" x2="835.02" y2="756.90" stroke="#1c1c1c" stroke-width="1.4" />
<line x1="891.88" y1="750.90" x2="891.88" y2="756.90" stroke="#1c1c1c" stroke-width="1.4" />
<line x1="567.70" y1="409.60" x2="579.20" y2="409.60" stroke="#1c1c1c" stroke-width="1.4" />
<text transform="translate(562.00,414.50) scale(0.93,1)" font-size="14.6" text-anchor="end" font-family="Liberation Serif, serif" fill="#1c1c1c" stroke="#1c1c1c" stroke-width="0.15" >90</text>
<line x1="567.70" y1="494.93" x2="579.20" y2="494.93" stroke="#1c1c1c" stroke-width="1.4" />
<text transform="translate(562.00,499.82) scale(0.93,1)" font-size="14.6" text-anchor="end" font-family="Liberation Serif, serif" fill="#1c1c1c" stroke="#1c1c1c" stroke-width="0.15" >80</text>
<line x1="567.70" y1="580.25" x2="579.20" y2="580.25" stroke="#1c1c1c" stroke-width="1.4" />
<text transform="translate(562.00,585.15) scale(0.93,1)" font-size="14.6" text-anchor="end" font-family="Liberation Serif, serif" fill="#1c1c1c" stroke="#1c1c1c" stroke-width="0.15" >70</text>
<line x1="567.70" y1="665.58" x2="579.20" y2="665.58" stroke="#1c1c1c" stroke-width="1.4" />
<text transform="translate(562.00,670.48) scale(0.93,1)" font-size="14.6" text-anchor="end" font-family="Liberation Serif, serif" fill="#1c1c1c" stroke="#1c1c1c" stroke-width="0.15" >60</text>
<line x1="567.70" y1="750.90" x2="579.20" y2="750.90" stroke="#1c1c1c" stroke-width="1.4" />
<text transform="translate(562.00,755.80) scale(0.93,1)" font-size="14.6" text-anchor="end" font-family="Liberation Serif, serif" fill="#1c1c1c" stroke="#1c1c1c" stroke-width="0.15" >50</text>
<line x1="573.20" y1="452.26" x2="579.20" y2="452.26" stroke="#1c1c1c" stroke-width="1.4" />
<line x1="573.20" y1="537.59" x2="579.20" y2="537.59" stroke="#1c1c1c" stroke-width="1.4" />
<line x1="573.20" y1="622.91" x2="579.20" y2="622.91" stroke="#1c1c1c" stroke-width="1.4" />
<line x1="573.20" y1="708.24" x2="579.20" y2="708.24" stroke="#1c1c1c" stroke-width="1.4" />
<text transform="translate(604.00,423.00) scale(1.04,1)" font-size="15" text-anchor="middle" font-family="Liberation Serif, serif" fill="#1c1c1c" stroke="#1c1c1c" stroke-width="0.3" >(d)</text>
<text transform="translate(749.00,794.30) scale(1.05,1)" font-size="15" text-anchor="middle" font-family="Liberation Serif, serif" fill="#1c1c1c" stroke="#1c1c1c" stroke-width="0.3" ><tspan font-style="italic">x</tspan>/km</text>
<path d="M650.20,525.40 L671.20,518.60 L682.20,520.20 L687.60,527.40 L691.40,539.20 L694.40,559.60 L698.60,577.80 L703.60,590.40 L714.00,600.40 L728.40,596.60 L739.20,580.40 L744.40,563.40 L748.20,542.60 L751.20,521.20 L755.00,508.60 L760.00,502.60 L770.40,500.40 L784.80,503.40 L795.60,509.40 L801.00,513.60 L805.00,519.00 L808.00,525.60 L811.70,529.60 L817.20,533.20 L827.80,537.00 L849.20,539.60" fill="none" stroke="#1c1c1c" stroke-width="1.2" stroke-dasharray="5.7 5.5"/>
<rect x="631.65" y="521.45" width="7.9" height="7.9" fill="none" stroke="#1c1c1c" stroke-width="1.25"/>
<rect x="660.05" y="512.05" width="7.9" height="7.9" fill="none" stroke="#1c1c1c" stroke-width="1.25"/>
<rect x="675.45" y="509.45" width="7.9" height="7.9" fill="none" stroke="#1c1c1c" stroke-width="1.25"/>
<rect x="681.65" y="516.65" width="7.9" height="7.9" fill="none" stroke="#1c1c1c" stroke-width="1.25"/>
<rect x="685.45" y="523.45" width="7.9" height="7.9" fill="none" stroke="#1c1c1c" stroke-width="1.25"/>
<rect x="692.45" y="553.05" width="7.9" height="7.9" fill="none" stroke="#1c1c1c" stroke-width="1.25"/>
<rect x="696.05" y="573.25" width="7.9" height="7.9" fill="none" stroke="#1c1c1c" stroke-width="1.25"/>
<rect x="704.05" y="585.45" width="7.9" height="7.9" fill="none" stroke="#1c1c1c" stroke-width="1.25"/>
<rect x="717.65" y="593.65" width="7.9" height="7.9" fill="none" stroke="#1c1c1c" stroke-width="1.25"/>
<rect x="732.05" y="581.65" width="7.9" height="7.9" fill="none" stroke="#1c1c1c" stroke-width="1.25"/>
<rect x="738.45" y="563.65" width="7.9" height="7.9" fill="none" stroke="#1c1c1c" stroke-width="1.25"/>
<rect x="743.65" y="537.65" width="7.9" height="7.9" fill="none" stroke="#1c1c1c" stroke-width="1.25"/>
<rect x="747.65" y="512.45" width="7.9" height="7.9" fill="none" stroke="#1c1c1c" stroke-width="1.25"/>
<rect x="752.05" y="500.45" width="7.9" height="7.9" fill="none" stroke="#1c1c1c" stroke-width="1.25"/>
<rect x="759.65" y="493.45" width="7.9" height="7.9" fill="none" stroke="#1c1c1c" stroke-width="1.25"/>
<rect x="775.05" y="494.05" width="7.9" height="7.9" fill="none" stroke="#1c1c1c" stroke-width="1.25"/>
<rect x="789.05" y="498.05" width="7.9" height="7.9" fill="none" stroke="#1c1c1c" stroke-width="1.25"/>
<rect x="796.65" y="504.45" width="7.9" height="7.9" fill="none" stroke="#1c1c1c" stroke-width="1.25"/>
<rect x="800.65" y="509.65" width="7.9" height="7.9" fill="none" stroke="#1c1c1c" stroke-width="1.25"/>
<rect x="807.05" y="520.45" width="7.9" height="7.9" fill="none" stroke="#1c1c1c" stroke-width="1.25"/>
<rect x="810.85" y="523.45" width="7.9" height="7.9" fill="none" stroke="#1c1c1c" stroke-width="1.25"/>
<rect x="816.65" y="528.45" width="7.9" height="7.9" fill="none" stroke="#1c1c1c" stroke-width="1.25"/>
<rect x="830.45" y="532.05" width="7.9" height="7.9" fill="none" stroke="#1c1c1c" stroke-width="1.25"/>
<rect x="861.05" y="533.25" width="7.9" height="7.9" fill="none" stroke="#1c1c1c" stroke-width="1.25"/>
<circle cx="650.20" cy="525.40" r="3.1" fill="#000"/>
<circle cx="671.20" cy="518.60" r="3.1" fill="#000"/>
<circle cx="682.20" cy="520.20" r="3.1" fill="#000"/>
<circle cx="687.60" cy="527.40" r="3.1" fill="#000"/>
<circle cx="691.40" cy="539.20" r="3.1" fill="#000"/>
<circle cx="694.40" cy="559.60" r="3.1" fill="#000"/>
<circle cx="698.60" cy="577.80" r="3.1" fill="#000"/>
<circle cx="703.60" cy="590.40" r="3.1" fill="#000"/>
<circle cx="714.00" cy="600.40" r="3.1" fill="#000"/>
<circle cx="728.40" cy="596.60" r="3.1" fill="#000"/>
<circle cx="739.20" cy="580.40" r="3.1" fill="#000"/>
<circle cx="744.40" cy="563.40" r="3.1" fill="#000"/>
<circle cx="748.20" cy="542.60" r="3.1" fill="#000"/>
<circle cx="751.20" cy="521.20" r="3.1" fill="#000"/>
<circle cx="755.00" cy="508.60" r="3.1" fill="#000"/>
<circle cx="760.00" cy="502.60" r="3.1" fill="#000"/>
<circle cx="770.40" cy="500.40" r="3.1" fill="#000"/>
<circle cx="784.80" cy="503.40" r="3.1" fill="#000"/>
<circle cx="795.60" cy="509.40" r="3.1" fill="#000"/>
<circle cx="801.00" cy="513.60" r="3.1" fill="#000"/>
<circle cx="805.00" cy="519.00" r="3.1" fill="#000"/>
<circle cx="808.00" cy="525.60" r="3.1" fill="#000"/>
<circle cx="811.70" cy="529.60" r="3.1" fill="#000"/>
<circle cx="817.20" cy="533.20" r="3.1" fill="#000"/>
<circle cx="827.80" cy="537.00" r="3.1" fill="#000"/>
<circle cx="849.20" cy="539.60" r="3.1" fill="#000"/>
<line x1="615.10" y1="701.00" x2="620.10" y2="701.00" stroke="#1c1c1c" stroke-width="1.5" />
<line x1="636.10" y1="701.00" x2="641.10" y2="701.00" stroke="#1c1c1c" stroke-width="1.5" />
<circle cx="605.40" cy="701.00" r="4.85" fill="#000"/>
<circle cx="627.60" cy="701.00" r="4.85" fill="#000"/>
<circle cx="650.40" cy="701.00" r="4.85" fill="#000"/>
<rect x="601.62" y="718.62" width="8.15" height="8.15" fill="none" stroke="#1c1c1c" stroke-width="1.25"/>
<rect x="624.02" y="718.62" width="8.15" height="8.15" fill="none" stroke="#1c1c1c" stroke-width="1.25"/>
<rect x="646.72" y="718.62" width="8.15" height="8.15" fill="none" stroke="#1c1c1c" stroke-width="1.25"/>
<text x="662.20" y="703.60" font-size="18.5" font-family="Liberation Serif, serif" fill="#1c1c1c" stroke="#1c1c1c" stroke-width="0.2" font-style="italic">φ<tspan font-size="11.5" dy="3.2" dx="1.2">yx</tspan><tspan font-size="14" dy="-3.4" dx="0.2" font-style="normal" font-weight="bold" stroke="none">:</tspan></text>
<text x="662.20" y="724.50" font-size="18.5" font-family="Liberation Serif, serif" fill="#1c1c1c" stroke="#1c1c1c" stroke-width="0.2" font-style="italic">φ<tspan font-size="11.5" dy="3.2" dx="1.2">yx</tspan><tspan font-size="14" dy="-3.4" dx="0.2" font-style="normal" font-weight="bold" stroke="none">:</tspan></text>
<text transform="translate(700.10,702.70) scale(0.975,1)" font-size="15.9" text-anchor="start" font-family="Liberation Serif, serif" fill="#1c1c1c" stroke="#1c1c1c" stroke-width="0.15" >VFE-PARDISO</text>
<text transform="translate(701.20,724.10) scale(1.0,1)" font-size="15.4" text-anchor="start" font-family="Liberation Serif, serif" fill="#1c1c1c" stroke="#1c1c1c" stroke-width="0.15" fill-opacity="0.8" stroke-opacity="0">IE</text>
<g transform="translate(80.7,186.8) rotate(-90)" font-family="Liberation Serif, serif" fill="#1c1c1c" stroke="#1c1c1c" stroke-width="0.25"><text x="-36.8" y="0" font-size="18.5" font-style="italic">ρ</text><text x="-28.0" y="3.2" font-size="12">s</text><line x1="-18.8" y1="0.6" x2="-13.7" y2="-13.2" stroke="#1c1c1c" stroke-width="1.15"/><text x="-8.1" y="0" font-size="15" word-spacing="-0.4"><tspan font-size="16.5" dy="-1.2">(</tspan><tspan dy="1.2">Ω · m</tspan><tspan font-size="16.5" dy="-1.2">)</tspan></text></g>
<g transform="translate(533.9,182.9) rotate(-90)" font-family="Liberation Serif, serif" fill="#1c1c1c" stroke="#1c1c1c" stroke-width="0.25"><text x="-36.8" y="0" font-size="18.5" font-style="italic">ρ</text><text x="-28.0" y="3.2" font-size="12">s</text><line x1="-18.8" y1="0.6" x2="-13.7" y2="-13.2" stroke="#1c1c1c" stroke-width="1.15"/><text x="-8.1" y="0" font-size="15" word-spacing="-0.4"><tspan font-size="16.5" dy="-1.2">(</tspan><tspan dy="1.2">Ω · m</tspan><tspan font-size="16.5" dy="-1.2">)</tspan></text></g>
<g transform="translate(87.3,575) rotate(-90)" font-family="Liberation Serif, serif" fill="#1c1c1c" stroke="#1c1c1c" stroke-width="0.25"><text x="-20.8" y="0" font-size="18.5" font-style="italic">φ</text><line x1="-9.2" y1="1.9" x2="-0.7" y2="-12.1" stroke="#1c1c1c" stroke-width="1.15"/><text x="3.7" y="-1.0" font-size="15.8">(</text><circle cx="11.6" cy="-10.6" r="1.55" fill="none" stroke="#1c1c1c" stroke-width="0.8"/><text x="21.7" y="-1.0" font-size="15.8" text-anchor="end">)</text></g>
<g transform="translate(533.2,579.1) rotate(-90)" font-family="Liberation Serif, serif" fill="#1c1c1c" stroke="#1c1c1c" stroke-width="0.25"><text x="-20.8" y="0" font-size="18.5" font-style="italic">φ</text><line x1="-9.2" y1="1.9" x2="-0.7" y2="-12.1" stroke="#1c1c1c" stroke-width="1.15"/><text x="3.7" y="-1.0" font-size="15.8">(</text><circle cx="11.6" cy="-10.6" r="1.55" fill="none" stroke="#1c1c1c" stroke-width="0.8"/><text x="21.7" y="-1.0" font-size="15.8" text-anchor="end">)</text></g>
</svg>
</body></html>
